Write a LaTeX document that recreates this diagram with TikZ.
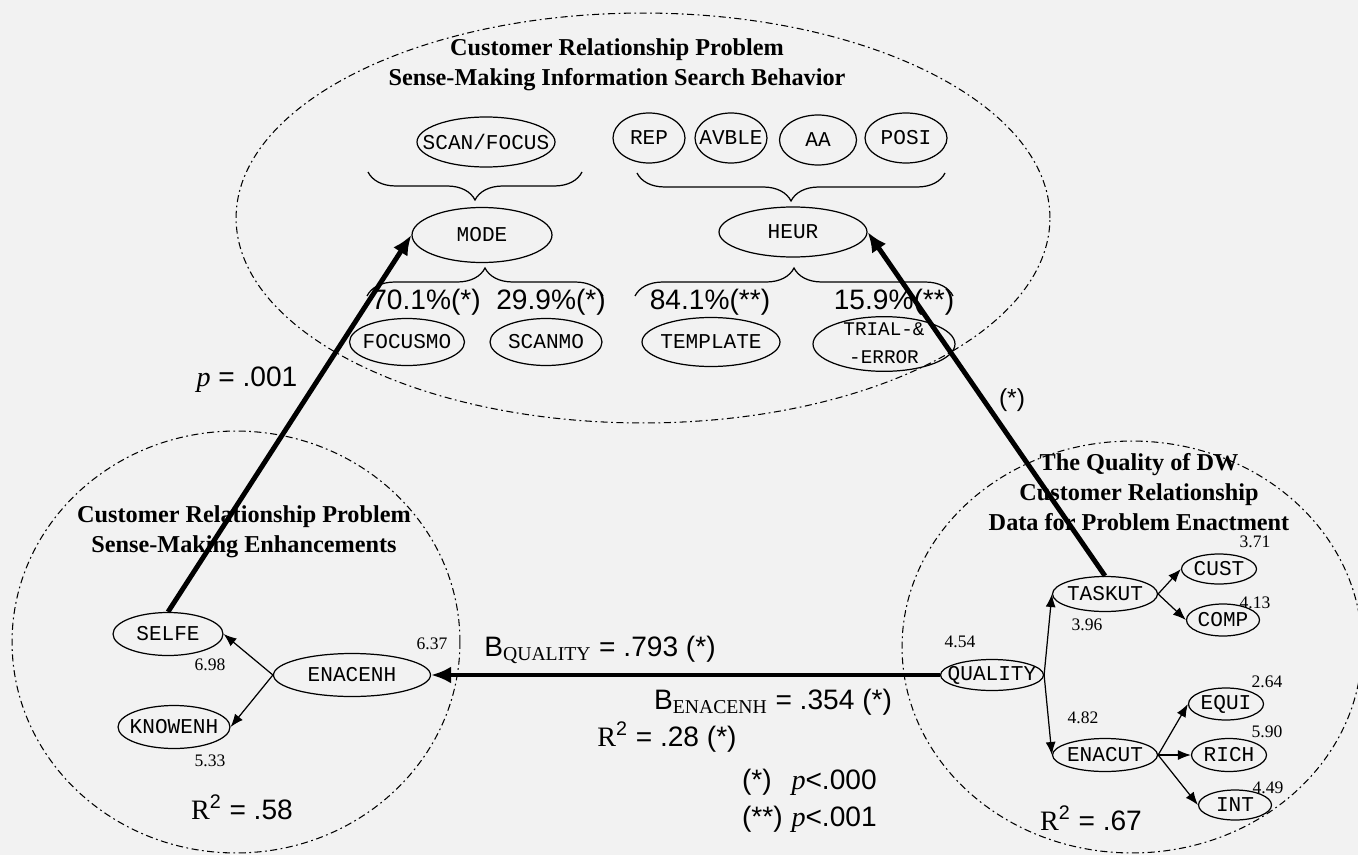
\documentclass[tikz,border=0pt]{standalone}
\usepackage{fontspec}
\setmainfont{Liberation Serif}
\setsansfont{Liberation Sans}
\setmonofont{Liberation Mono}
\usepackage{tikz}
\usetikzlibrary{shapes.geometric, arrows.meta, decorations.pathreplacing}
\definecolor{paper}{gray}{0.95}
\tikzset{
  % Construct styles
  var/.style={ellipse, draw, line width=0.7pt, inner sep=0pt, minimum width=#1,
    font=\ttfamily\fontsize{12}{14}\selectfont,
    execute at begin node={\setbox0=\hbox\bgroup},
    execute at end node={\egroup\hbox to 0pt{\hss\box0\hss}}},
  var/.default={2cm},
  group/.style={draw, line width=0.6pt, dash pattern=on 4pt off 2pt on 1pt off 2pt},
  heading/.style={font=\bfseries\fontsize{13.8}{17}\selectfont, align=center},
  % Arrow styles
  effect/.style={-{Latex[length=4mm, width=3.4mm]}, line width=2.8pt},
  loading/.style={-{Latex[length=2.6mm, width=2mm]}, line width=0.7pt},
}

\begin{document}
\begin{tikzpicture}[x=0.02cm, y=-0.02cm,
    stat/.style={font=\sffamily\fontsize{16}{21}\selectfont, inner sep=1pt},
    mean/.style={font=\fontsize{10}{12}\selectfont, inner sep=1pt},
    downbrace/.style={decorate, decoration={brace, mirror, amplitude=0.56cm, aspect=0.5}, line width=0.7pt},
    upbrace/.style={decorate, decoration={brace, amplitude=0.56cm, aspect=0.5}, line width=0.7pt}
  ]
    \path[use as bounding box, fill=paper] (0,0) rectangle (1358,855);

    % Information search behavior
    \draw[group] (643,218) ellipse [x radius=8.14cm, y radius=4.1cm];
    \node[heading] (titleSearch) at (617,65) {Customer Relationship Problem\\Sense-Making Information Search Behavior};

    \node[var=2.76cm, minimum height=1cm] (scanfocus) at (486,142) {SCAN/FOCUS};
    \node[var=1.44cm, minimum height=1cm] (rep) at (649,138) {REP};
    \node[var=1.44cm, minimum height=1cm] (avble) at (731,138) {AVBLE};
    \node[var=1.54cm, minimum height=1cm] (aa) at (818,140) {AA};
    \node[var=1.64cm, minimum height=1cm] (posi) at (906,138) {POSI};

    \node[var=2.8cm, minimum height=1.1cm] (mode) at (482,235) {MODE};
    \node[var=2.96cm, minimum height=1cm] (heur) at (793,232) {HEUR};

    \node[var=2.3cm, minimum height=0.94cm] (focusmo) at (407,342) {FOCUSMO};
    \node[var=2.24cm, minimum height=0.94cm] (scanmo) at (546,342) {SCANMO};
    \node[var=2.76cm, minimum height=0.98cm] (template) at (711,342) {TEMPLATE};
    \node[var=2.84cm, minimum height=0.96cm, inner ysep=-5pt] (trial) at (884,344)
      {\fontsize{11}{16}\selectfont\begin{tabular}{@{}c@{}}TRIAL-\&\\-ERROR\end{tabular}};

    % Braces
    \draw[downbrace] (368,172) -- (582,172);
    \draw[downbrace] (637,173) -- (945,173);
    \draw[upbrace] (367,296) -- (603,296);
    \draw[upbrace] (635,296) -- (953,296);

    \node[stat] (pctFocus) at (426,302) {70.1\%(*)};
    \node[stat] (pctScan) at (551,302) {29.9\%(*)};
    \node[stat] (pctTemplate) at (710,302) {84.1\%(**)};
    \node[stat] (pctTrial) at (894,302) {15.9\%(**)};

    % Enhancements
    \draw[group] (236,642) ellipse [x radius=4.48cm, y radius=4.22cm];
    \node[heading] (titleEnh) at (244,532) {Customer Relationship Problem\\Sense-Making Enhancements};

    \node[var=2.2cm, minimum height=0.86cm] (selfe) at (168,634) {SELFE};
    \node[var=3.14cm, minimum height=0.86cm] (enacenh) at (352,675) {ENACENH};
    \node[var=2.24cm, minimum height=0.86cm] (knowenh) at (174,727) {KNOWENH};

    \node[mean] (mSelfe) at (210,665) {6.98};
    \node[mean] (mKnowenh) at (210,761) {5.33};
    \node[mean] (mEnacenh) at (432,644) {6.37};
    \node[stat] (rTwoEnh) at (242,807) {{\rmfamily R}\textsuperscript{2} = .58};

    % Data quality
    \draw[group] (1132,647) ellipse [x radius=4.6cm, y radius=4.12cm];
    \node[heading] (titleQual) at (1139,492) {The Quality of DW\\Customer Relationship\\Data for Problem Enactment};

    \node[var=2.06cm, minimum height=0.62cm] (quality) at (992,675) {QUALITY};
    \node[var=2.1cm, minimum height=0.7cm] (taskut) at (1105,594) {TASKUT};
    \node[var=2.1cm, minimum height=0.66cm] (enacut) at (1105,755) {ENACUT};
    \node[var=1.5cm, minimum height=0.6cm] (cust) at (1219,569) {CUST};
    \node[var=1.46cm, minimum height=0.64cm] (comp) at (1223,620) {COMP};
    \node[var=1.5cm, minimum height=0.64cm] (equi) at (1226,704) {EQUI};
    \node[var=1.5cm, minimum height=0.66cm] (rich) at (1229,755) {RICH};
    \node[var=1.46cm, minimum height=0.6cm] (int) at (1235,805) {INT};

    \node[mean] (mQuality) at (960,642) {4.54};
    \node[mean] (mTaskut) at (1087,625) {3.96};
    \node[mean] (mEnacut) at (1083,718) {4.82};
    \node[mean] (mCust) at (1255,542) {3.71};
    \node[mean] (mComp) at (1255,603) {4.13};
    \node[mean] (mEqui) at (1267,682) {2.64};
    \node[mean] (mRich) at (1267,732) {5.90};
    \node[mean] (mInt) at (1268,788) {4.49};
    \node[stat] (rTwoQual) at (1091,818) {{\rmfamily R}\textsuperscript{2} = .67};

    % Measurement arrows
    \draw[loading] (enacenh.west) -- (selfe.east);
    \draw[loading] (enacenh.west) -- (knowenh.east);
    \draw[loading] (quality.east) -- (taskut.west);
    \draw[loading] (quality.east) -- (enacut.west);
    \draw[loading] (taskut.east) -- (cust.west);
    \draw[loading] (taskut.east) -- (comp.west);
    \draw[loading] (enacut.east) -- (equi.west);
    \draw[loading] (enacut.east) -- (rich.west);
    \draw[loading] (enacut.east) -- (int.west);

    % Structural paths
    \draw[effect] (selfe.north) -- (mode.west);
    \draw[effect] (taskut.north) -- (heur.east);
    \draw[effect] (quality.west) -- (enacenh.east);

    \node[stat] (pMode) at (247,380) {{\rmfamily\itshape p} = .001};
    \node[stat, font=\sffamily\fontsize{14}{16}\selectfont] (pHeur) at (1012,400) {(*)};
    \node[stat] (bQuality) at (600,650) {B\textsubscript{\rmfamily QUALITY} = .793 (*)};
    \node[stat] (bEnacenh) at (773,702) {B\textsubscript{\rmfamily ENACENH} = .354 (*)};
    \node[stat] (rTwoPath) at (667,737) {{\rmfamily R}\textsuperscript{2} = .28 (*)};

    % Legend
    \node[stat, anchor=west] (legend) at (740,801)
      {\begin{tabular}{@{}l@{\hspace{5pt}}l@{}}(*) & {\rmfamily\itshape p}<.000\\(**) & {\rmfamily\itshape p}<.001\end{tabular}};
  \end{tikzpicture}
\end{document}
